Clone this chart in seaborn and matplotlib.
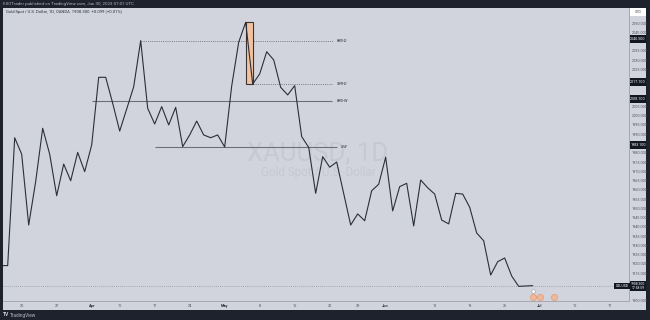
import numpy as np
import pandas as pd
import matplotlib
matplotlib.use("Agg")
import matplotlib.pyplot as plt
import seaborn as sns
from matplotlib.patches import Rectangle
from matplotlib.transforms import blended_transform_factory

# ---------------- data ----------------
close = [1919.1, 1919.1, 1988.1, 1979.2, 1941.0, 1964.5, 1993.2, 1979.2, 1956.8, 1973.9,
         1964.9, 1980.2, 1969.8, 1984.2, 2020.7, 2020.7, 2006.7, 1991.7, 2003.6, 2015.6,
         2040.5, 2004.0, 1995.5, 2004.9, 1995.0, 2004.5, 1983.3, 1989.6, 1997.1, 1989.6,
         1988.1, 1989.6, 1983.1, 2016.0, 2039.6, 2050.4, 2017.1, 2022.5, 2034.5, 2030.1,
         2015.3, 2011.2, 2016.2, 1988.7, 1982.9, 1958.1, 1977.9, 1972.2, 1975.0, 1958.0,
         1941.0, 1947.0, 1943.3, 1959.5, 1963.0, 1977.6, 1948.6, 1961.7, 1963.5, 1940.5,
         1965.3, 1961.1, 1957.7, 1943.7, 1941.6, 1958.1, 1957.7, 1950.6, 1936.7, 1932.5,
         1914.0, 1921.2, 1923.2, 1913.5, 1907.9, 1908.1, 1908.3]
bar_index = list(range(len(close)))

level_names = ["RBS-D", "SBR-D", "RBS-W", "S-W"]
level_prices = [2040.5, 2017.1, 2008.1, 1983.1]
level_start = [20, 36, 13, 22]
level_end = [47.5, 47.5, 47.3, 48.1]
level_dotted = [True, True, False, False]

box_x = [35, 36]          # bar index span of the highlighted candle zone
box_y = [2017.1, 2050.4]  # price span

x_tick_pos = [3, 8, 13, 17, 22, 27, 32, 37, 42, 47, 51, 55, 62, 67, 72, 77, 82, 87]
x_tick_lab = ["20", "27", "Apr", "10", "17", "24", "May", "8", "15", "22", "29",
              "Jun", "12", "19", "26", "Jul", "10", "17"]
y_ticks = list(range(1900, 2051, 5))

event_idx = [76, 77, 79]
last_price = 1908.3

# ---------------- style ----------------
sns.set_style("white")
plt.rcParams["font.family"] = ["Roboto", "DejaVu Sans"]

BG = "#d1d4dc"
DARK = "#1e222d"
LINE = "#2a2e39"
GRID_TXT = "#50535e"

fig = plt.figure(figsize=(6.5, 3.2), dpi=100, facecolor=DARK)
W, H = 650, 320

# light panel (plot + axes area)
panel = Rectangle((3 / W, 10 / H), 643 / W, 302 / H, transform=fig.transFigure,
                  facecolor=BG, edgecolor="none", zorder=-10)
fig.add_artist(panel)

ax = fig.add_axes([3 / W, 19 / H, 626 / W, 293 / H])
ax.set_zorder(1)
ax.set_facecolor(BG)

df = pd.DataFrame({"bar": bar_index, "close": close})
sns.lineplot(data=df, x="bar", y="close", ax=ax, color=LINE, linewidth=0.8, zorder=4)

ax.set_xlim(0.33, 89.76)
ax.set_ylim(1900, 2058.1)
pxu = 293 / (2058.1 - 1900)  # pixels per price unit

# current price dotted line
ax.axhline(last_price, color="#9598a1", lw=0.6, ls=(0, (1, 1.5)), zorder=2)

# levels
for name, p, s, e, dot in zip(level_names, level_prices, level_start, level_end, level_dotted):
    if dot:
        ax.hlines(p, s, e, color="#6a6d78", lw=0.6, linestyles=(0, (1.2, 1.4)), zorder=3)
    else:
        ax.hlines(p, s, e, color="#6a6d78", lw=0.75, zorder=3)
    ax.text(49.6, p, name, fontsize=2.8, color=LINE, ha="right", va="center",
            fontstyle="italic", zorder=5)

# highlighted zone
ax.add_patch(Rectangle((box_x[0], box_y[0]), box_x[1] - box_x[0], box_y[1] - box_y[0],
                       facecolor="#f2c2a0", edgecolor="#3b3330", lw=0.8, zorder=3.5))

# watermark
ax.text(0.503, 0.505, "XAUUSD, 1D", transform=ax.transAxes, fontsize=18.5,
        color="#c6c9d1", ha="center", va="center", zorder=1)
ax.text(0.503, 0.44, "Gold Spot / U.S. Dollar", transform=ax.transAxes, fontsize=8.4,
        color="#c6c9d1", ha="center", va="center", zorder=1)

# axes styling
for sp in ["top", "left"]:
    ax.spines[sp].set_visible(False)
ax.spines["right"].set_color("#9ea1aa")
ax.spines["right"].set_linewidth(0.6)
ax.spines["bottom"].set_color("#9ea1aa")
ax.spines["bottom"].set_linewidth(0.6)
ax.set_xlabel("")
ax.set_ylabel("")
ax.grid(False)

# price-axis boxes occupy these price ranges; tick labels under them are hidden
box_ranges = [(p - 2.5 / pxu, p + 6.0 / pxu) for p in level_prices]
box_ranges.append((last_price - 5 / pxu, last_price + 4.5 / pxu))
box_ranges.append((2053.5, 2058.1))


def hidden(v):
    return any(lo - 2 / pxu <= v <= hi + 2 / pxu for lo, hi in box_ranges)


ax.yaxis.tick_right()
ax.set_yticks(y_ticks)
ax.set_yticklabels(["" if hidden(v) else f"{v:.3f}" for v in y_ticks])
ax.tick_params(axis="y", length=0, pad=2.2, labelsize=2.7, labelcolor=GRID_TXT)

ax.set_xticks(x_tick_pos)
ax.set_xticklabels(x_tick_lab)
ax.tick_params(axis="x", length=0, pad=2.4, labelsize=2.8, labelcolor=GRID_TXT)
for t in ax.get_xticklabels():
    if t.get_text() in ("Apr", "May", "Jun", "Jul"):
        t.set_fontweight("bold")
        t.set_color(LINE)

# price axis label boxes
tr = blended_transform_factory(ax.transAxes, ax.transData)
bw = 16 / 626
for p in level_prices:
    y0 = p - 2.5 / pxu
    ax.add_patch(Rectangle((1.0016, y0), bw, 8.5 / pxu, transform=tr, facecolor="#131722",
                           edgecolor="none", clip_on=False, zorder=6))
    ax.text(1.0016 + bw / 2, y0 + 4.25 / pxu, f"{p:.3f}", transform=tr, fontsize=2.6,
            color="white", ha="center", va="center", clip_on=False, zorder=7)

# current price boxes
yc = last_price - 5 / pxu
ax.add_patch(Rectangle((1.0016, yc), bw, 9.5 / pxu, transform=tr, facecolor="#131722",
                       edgecolor="none", clip_on=False, zorder=6))
ax.text(1.0016 + bw / 2, yc + 4.75 / pxu, f"{last_price:.3f}\n17:58:59", transform=tr,
        fontsize=2.4, color="white", ha="center", va="center", clip_on=False, zorder=7,
        linespacing=1.0)
ax.add_patch(Rectangle((0.976, yc + 1.5 / pxu), 0.0256, 6 / pxu, transform=tr,
                       facecolor="#131722", edgecolor="none", clip_on=False, zorder=6))
ax.text(0.976 + 0.0128, yc + 4.5 / pxu, "XAUUSD", transform=tr, fontsize=2.4,
        color="white", ha="center", va="center", clip_on=False, zorder=7)

# currency box at top of price axis
ax.add_patch(Rectangle((1.0016, 2054.0), bw, 4.0, transform=tr, facecolor="white",
                       edgecolor="none", clip_on=False, zorder=6))
ax.text(1.0016 + bw / 2, 2056.0, "USD", transform=tr, fontsize=2.6, color=GRID_TXT,
        ha="center", va="center", clip_on=False, zorder=7)

# event markers near the bottom
trx = blended_transform_factory(ax.transData, ax.transAxes)
ax.scatter(event_idx, [0.012] * len(event_idx), transform=trx, s=20, color="#f0b898",
           edgecolor="#e59c74", linewidth=0.5, zorder=6, clip_on=False)
ax.scatter([event_idx[0]], [0.034], transform=trx, s=7, color="white",
           edgecolor="#9598a1", linewidth=0.4, zorder=6)

# header texts
fig.text(3 / W, 1 - 4 / H, "EXOTrader published on TradingView.com, Jun 30, 2023 07:01 UTC",
         fontsize=3.2, color="#b2b5be", ha="left", va="center")
ax.text(3 / 626, 1 - 4 / 293, "Gold Spot / U.S. Dollar, 1D, OANDA  1908.300  +0.099 (+0.01%)",
        transform=ax.transAxes, fontsize=3.0, color=LINE, ha="left", va="center")

# footer logo
fig.text(3 / W, 1 - 315 / H, "TV", fontsize=3.6, color="#d1d4dc", fontweight="bold",
         ha="left", va="center")
fig.text(10 / W, 1 - 315 / H, "TradingView", fontsize=3.4, color="#b2b5be",
         ha="left", va="center")

fig.savefig("out.png", dpi=100, facecolor=DARK)
